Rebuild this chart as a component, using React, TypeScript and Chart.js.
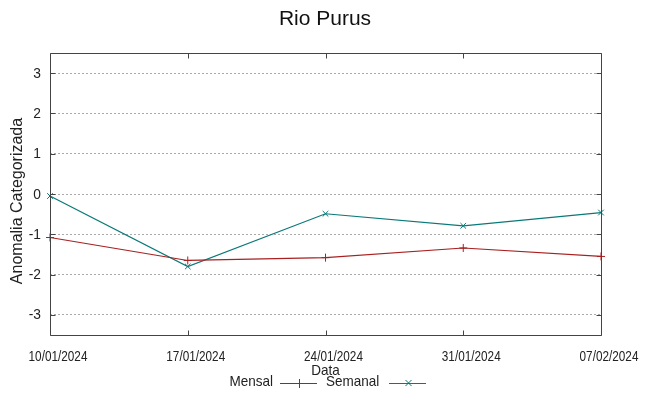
import React, { useEffect, useRef } from 'react';
import { Chart, registerables } from 'chart.js';
Chart.register(...registerables);

const dates = ['10/01/2024', '17/01/2024', '24/01/2024', '31/01/2024', '07/02/2024'];
const mensal = [-1.08, -1.65, -1.58, -1.34, -1.55];
const semanal = [-0.05, -1.8, -0.49, -0.79, -0.46];
const yTicks = [-3, -2, -1, 0, 1, 2, 3];
const titleText = 'Rio Purus';
const yTitle = 'Anomalia Categorizada';
const xTitle = 'Data';
const seriesNames = ['Mensal', 'Semanal'];

const RED = '#a82020';
const TEAL = '#0a7878';
const SANS = '"Liberation Sans", Arial, sans-serif';

function narrowText(ctx: any, text: string, x: number, y: number, align: string, size: number, sx: number) {
  ctx.save();
  ctx.font = size + 'px ' + SANS;
  ctx.textAlign = align;
  ctx.textBaseline = 'middle';
  ctx.fillStyle = '#222';
  ctx.translate(x, y);
  ctx.scale(sx, 1);
  ctx.fillText(text, 0, 0);
  ctx.restore();
}

const framePlugin = {
  id: 'frame',
  afterDatasetsDraw(chart: any) {
    const { ctx, chartArea, scales } = chart;
    const { left, right, top, bottom } = chartArea;
    ctx.save();
    ctx.strokeStyle = '#444';
    ctx.lineWidth = 1;
    const L = Math.round(left) + 0.5;
    const R = Math.round(right) + 0.5;
    const T = Math.round(top) + 0.5;
    const B = Math.round(bottom) + 0.5;
    ctx.beginPath();
    ctx.rect(L, T, R - L, B - T);
    ctx.stroke();
    ctx.beginPath();
    dates.forEach((_, i) => {
      const px = Math.round(scales.x.getPixelForValue(i)) + 0.5;
      ctx.moveTo(px, T);
      ctx.lineTo(px, T + 5);
      ctx.moveTo(px, B);
      ctx.lineTo(px, B - 5);
    });
    yTicks.forEach((v) => {
      const py = Math.round(scales.y.getPixelForValue(v)) + 0.5;
      ctx.moveTo(L, py);
      ctx.lineTo(L + 5, py);
      ctx.moveTo(R, py);
      ctx.lineTo(R - 5, py);
    });
    ctx.stroke();
    ctx.restore();
  },
};

const textPlugin = {
  id: 'texts',
  afterDraw(chart: any) {
    const { ctx, scales, chartArea } = chart;
    // title
    ctx.save();
    ctx.font = '21px ' + SANS;
    ctx.fillStyle = '#111';
    ctx.textAlign = 'center';
    ctx.textBaseline = 'middle';
    ctx.fillText(titleText, 325, 19);
    ctx.restore();
    // y title
    ctx.save();
    ctx.font = '16px ' + SANS;
    ctx.fillStyle = '#222';
    ctx.textAlign = 'center';
    ctx.textBaseline = 'middle';
    ctx.translate(18, (chartArea.top + chartArea.bottom) / 2 + 7);
    ctx.rotate(-Math.PI / 2);
    ctx.fillText(yTitle, 0, 0);
    ctx.restore();
    // y tick labels
    scales.y.ticks.forEach((t: any) => {
      narrowText(ctx, String(t.value), 41, scales.y.getPixelForValue(t.value) + 0.5, 'right', 15, 0.92);
    });
    // x tick labels
    (chart.data.labels as string[]).forEach((lab, i) => {
      narrowText(ctx, lab, scales.x.getPixelForValue(i) + 8, 357, 'center', 14, 0.84);
    });
    // x title
    narrowText(ctx, xTitle, (chartArea.left + chartArea.right) / 2, 371, 'center', 15, 0.9);
  },
};

const legendPlugin = {
  id: 'customLegend',
  afterDraw(chart: any) {
    const { ctx } = chart;
    const y = 383;
    const items = [
      { label: chart.data.datasets[0].label, color: RED, text: 273, align: 'right', x0: 280, x1: 317, mark: 'plus' },
      { label: chart.data.datasets[1].label, color: TEAL, text: 326, align: 'left', x0: 389, x1: 426, mark: 'x' },
    ];
    items.forEach((it) => {
      narrowText(ctx, it.label, it.text, y - 1, it.align, 15, 0.9);
      ctx.save();
      ctx.strokeStyle = it.color;
      ctx.lineWidth = 1;
      ctx.beginPath();
      ctx.moveTo(it.x0, y + 0.5);
      ctx.lineTo(it.x1, y + 0.5);
      const cx = Math.round((it.x0 + it.x1) / 2) + 0.5;
      if (it.mark === 'plus') {
        ctx.moveTo(cx, y - 4);
        ctx.lineTo(cx, y + 5);
      } else {
        ctx.moveTo(cx - 3, y - 3);
        ctx.lineTo(cx + 3, y + 3);
        ctx.moveTo(cx - 3, y + 3);
        ctx.lineTo(cx + 3, y - 3);
      }
      ctx.stroke();
      ctx.restore();
    });
  },
};

export default function App() {
  const ref = useRef<HTMLCanvasElement | null>(null);
  useEffect(() => {
    if (!ref.current) return;
    const chart = new Chart(ref.current, {
      type: 'line',
      data: {
        labels: dates,
        datasets: [
          {
            label: seriesNames[0],
            data: mensal,
            borderColor: RED,
            backgroundColor: RED,
            borderWidth: 1.2,
            pointStyle: 'cross',
            pointRadius: 4,
            pointBorderWidth: 1,
            tension: 0,
          },
          {
            label: seriesNames[1],
            data: semanal,
            borderColor: TEAL,
            backgroundColor: TEAL,
            borderWidth: 1.2,
            pointStyle: 'crossRot',
            pointRadius: 4,
            pointBorderWidth: 1,
            tension: 0,
          },
        ],
      },
      options: {
        responsive: false,
        animation: false,
        devicePixelRatio: 1,
        layout: { padding: { left: 0, right: 48, top: 53, bottom: 0 } },
        plugins: {
          legend: { display: false },
          tooltip: { enabled: false },
          title: { display: false },
        },
        scales: {
          x: {
            type: 'category',
            offset: false,
            afterFit: (s: any) => {
              s.height = 61;
            },
            grid: { display: false, drawTicks: false },
            border: { display: false },
            ticks: { display: false, autoSkip: false, maxRotation: 0 },
          },
          y: {
            type: 'linear',
            min: -3.5,
            max: 3.5,
            afterFit: (s: any) => {
              s.width = 50;
            },
            afterBuildTicks: (s: any) => {
              s.ticks = yTicks.map((v) => ({ value: v }));
            },
            grid: { color: '#aaa', lineWidth: 1, drawTicks: false },
            border: { display: false, dash: [2, 2] },
            ticks: { display: false },
          },
        },
      },
      plugins: [framePlugin, textPlugin, legendPlugin],
    } as any);
    return () => chart.destroy();
  }, []);
  return (
    <div style={{ position: 'absolute', left: 0, top: 0, width: 649, height: 396, background: '#fff' }}>
      <canvas ref={ref} width={649} height={396} />
    </div>
  );
}
